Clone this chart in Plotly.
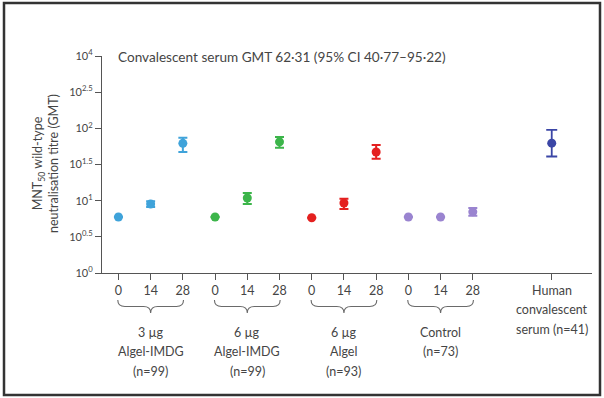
import plotly.graph_objects as go

# Figure geometry (pixels)
W, H = 604, 398
ML, MR, MT, MB = 102, 12, 56, 125
PW, PH = W - ML - MR, H - MT - MB

# Sampling days and groups
days = ["0", "14", "28"]
groups = ["3 µg<br>Algel-IMDG<br>(n=99)", "6 µg<br>Algel-IMDG<br>(n=99)",
          "6 µg<br>Algel<br>(n=93)", "Control<br>(n=73)"]
group_colors = ["#3fa3da", "#3cb54a", "#e4201f", "#9a84d0"]

# GMT and 95% CI per group, per day
gmt = [[5.95, 9.0, 62.0], [5.95, 10.9, 65.0], [5.8, 9.3, 47.0], [5.95, 5.95, 7.0]]
ci_low = [[5.95, 8.2, 47.0], [5.95, 9.0, 54.0], [5.8, 7.7, 38.0], [5.95, 5.95, 6.2]]
ci_high = [[5.95, 9.8, 74.0], [5.95, 12.8, 76.0], [5.8, 10.6, 59.0], [5.95, 5.95, 7.9]]

# Human convalescent serum
conv_label = "Human<br>convalescent<br>serum (n=41)"
conv_gmt, conv_low, conv_high = 62.31, 40.77, 95.22
conv_color = "#3b46a6"
conv_pos = 13.45

y_tickvals = [1, 10 ** 0.5, 10, 10 ** 1.5, 100, 10 ** 2.5, 1000]
y_ticktext = ["10<sup>0</sup>", "10<sup>0.5</sup>", "10<sup>1</sup>", "10<sup>1.5</sup>",
              "10<sup>2</sup>", "10<sup>2.5</sup>", "10<sup>4</sup>"]

title_text = "Convalescent serum GMT 62·31 (95% CI 40·77–95·22)"
y_title = "MNT<sub>50</sub> wild-type<br>neutralisation titre (GMT)"

FONT = "Lato"
TXT = "#454545"
AX = "#555555"

X_RANGE = [-0.51, 14.7]


def px_x(px):
    return (px - ML) / PW


def px_y(py):
    return (H - MB - py) / PH


fig = go.Figure()

xpos_all, xtext_all = [], []
for g, (name, col) in enumerate(zip(groups, group_colors)):
    xs = [g * 3 + i for i in range(3)]
    xpos_all += xs
    xtext_all += days
    vals = gmt[g]
    fig.add_trace(go.Scatter(
        x=xs, y=vals, mode="markers",
        marker=dict(color=col, size=9, symbol="circle"),
        error_y=dict(type="data", symmetric=False,
                     array=[h - v for h, v in zip(ci_high[g], vals)],
                     arrayminus=[v - l for l, v in zip(ci_low[g], vals)],
                     color=col, thickness=2, width=4.5),
        showlegend=False, hoverinfo="skip"))

fig.add_trace(go.Scatter(
    x=[conv_pos], y=[conv_gmt], mode="markers",
    marker=dict(color=conv_color, size=9),
    error_y=dict(type="data", symmetric=False,
                 array=[conv_high - conv_gmt], arrayminus=[conv_gmt - conv_low],
                 color=conv_color, thickness=1.8, width=5.5),
    showlegend=False, hoverinfo="skip"))

xpos_all.append(conv_pos)
xtext_all.append("")

shapes = []
annotations = []

# Curly braces under each group and the group captions
y_top, y_mid, y_bot = px_y(300), px_y(306.5), px_y(313)
for g, name in enumerate(groups):
    x0, x1 = g * 3 - 0.02, g * 3 + 2 + 0.02
    xc = (x0 + x1) / 2
    d = 0.22
    path = (f"M {x0},{y_top} Q {x0},{y_mid} {x0 + d},{y_mid} "
            f"L {xc - d},{y_mid} Q {xc},{y_mid} {xc},{y_bot} "
            f"Q {xc},{y_mid} {xc + d},{y_mid} "
            f"L {x1 - d},{y_mid} Q {x1},{y_mid} {x1},{y_top}")
    shapes.append(dict(type="path", path=path, xref="x", yref="paper",
                       line=dict(color="#6a6a6a", width=1.1)))
    for k, line in enumerate(name.split("<br>")):
        annotations.append(dict(x=xc, y=px_y(332 + 19.5 * k), xref="x", yref="paper",
                                text=line, showarrow=False, xanchor="center", yanchor="middle",
                                font=dict(family=FONT, size=12.5, color=TXT)))

for k, line in enumerate(conv_label.split("<br>")):
    annotations.append(dict(x=conv_pos, y=px_y(290 + 19.5 * k), xref="x", yref="paper",
                            text=line, showarrow=False, xanchor="center", yanchor="middle",
                            font=dict(family=FONT, size=12.5, color=TXT)))

annotations.append(dict(x=px_x(116), y=px_y(57), xref="paper", yref="paper",
                        text=title_text, showarrow=False, xanchor="left", yanchor="middle",
                        font=dict(family=FONT, size=13.6, color=TXT)))

annotations.append(dict(x=px_x(45), y=px_y(164), xref="paper", yref="paper",
                        text=y_title, showarrow=False, textangle=-90,
                        xanchor="center", yanchor="middle",
                        font=dict(family=FONT, size=12.5, color=TXT)))

# Frame around the whole figure
shapes.append(dict(type="rect", xref="paper", yref="paper",
                   x0=px_x(4), x1=px_x(600), y0=px_y(395), y1=px_y(3),
                   line=dict(color="#333333", width=2.5)))

fig.update_layout(
    width=W, height=H,
    margin=dict(l=ML, r=MR, t=MT, b=MB),
    paper_bgcolor="white", plot_bgcolor="white",
    font=dict(family=FONT, color=TXT),
    shapes=shapes, annotations=annotations,
    xaxis=dict(range=X_RANGE, tickvals=xpos_all, ticktext=xtext_all,
               showline=True, linecolor=AX, linewidth=1.3,
               ticks="outside", ticklen=6, tickcolor=AX, tickwidth=1.3,
               showgrid=False, zeroline=False, tickfont=dict(size=12.5, color=TXT)),
    yaxis=dict(type="log", range=[0, 3], tickvals=y_tickvals, ticktext=y_ticktext,
               showline=True, linecolor=AX, linewidth=1.3,
               ticks="outside", ticklen=6, tickcolor=AX, tickwidth=1.3,
               showgrid=False, zeroline=False, tickfont=dict(size=11, color=TXT)),
)

fig.write_html("out.html")
